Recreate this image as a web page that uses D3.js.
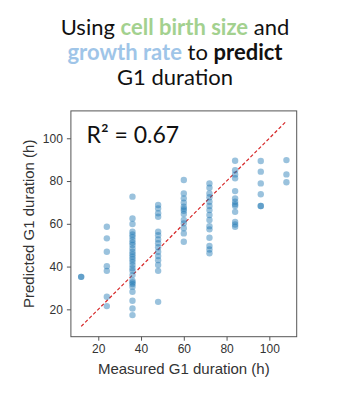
<!DOCTYPE html>
<html>
<head>
<meta charset="utf-8">
<script src="https://cdn.jsdelivr.net/npm/d3@7"></script>
<style>
  body { margin: 0; background: #fff; }
  svg { display: block; }
  .tick text { font-family: "Liberation Sans", Arial, sans-serif; font-size: 12px; fill: #333; }
  .tick line { stroke: #555; }
  .axis-label { font-family: "Liberation Sans", Arial, sans-serif; font-size: 15px; fill: #333; }
  .title { font-family: Lato, "Open Sans", sans-serif; font-size: 22px; fill: #111; }
</style>
</head>
<body>
<svg id="chart" width="346" height="398"></svg>
<script>
// measured G1 duration levels (h) and predicted values at each level
const measured = [12, 24, 36, 48, 60, 72, 84, 96, 108];
const pred12 = [35.2, 35.2];
const pred24 = [58.6, 53.2, 46.9, 40.2, 38.0, 25.9, 21.5];
const pred36 = [72.7, 62.5, 59.9, 56.3, 55.0, 53.9, 52.4, 51.2, 50.1, 48.5, 46.9, 45.8, 44.6, 43.4, 42.2,
                40.7, 39.2, 38.0, 36.0, 33.4, 32.6, 31.8, 30.6, 28.2, 24.0, 20.4, 17.3];
const pred48 = [68.8, 67.2, 64.9, 63.3, 56.3, 54.7, 52.7, 50.9, 49.0, 46.9, 44.9, 43.0, 40.7, 38.0, 23.5];
const pred60 = [80.5, 74.2, 71.9, 69.9, 68.0, 67.0, 66.1, 64.6, 61.8, 60.2, 57.9, 55.5, 51.6];
const pred72 = [78.9, 76.9, 74.2, 72.4, 70.3, 68.3, 66.4, 64.1, 61.8, 58.9, 57.4, 53.5, 49.6, 48.0, 46.2];
const pred84 = [89.5, 85.1, 83.1, 81.3, 75.3, 71.9, 70.3, 69.2, 68.3, 65.6, 60.9, 59.7, 58.6];
const pred96 = [89.4, 84.4, 78.9, 73.8, 68.3, 68.3];
const pred108 = [89.8, 83.1, 79.4];
const predicted = [pred12, pred24, pred36, pred48, pred60, pred72, pred84, pred96, pred108];
const xTicks = [20, 40, 60, 80, 100];
const yTicks = [20, 40, 60, 80, 100];
const rSquared = "0.67";

const points = [];
measured.forEach((m, i) => predicted[i].forEach(p => points.push({ m, p })));

const svg = d3.select("#chart");
const box = { left: 70.9, right: 296.7, top: 110.9, bottom: 336.7 };

const lo = d3.min(measured), hi = d3.max(measured);
const pad = (hi - lo) * 0.05;
const x = d3.scaleLinear().domain([lo - pad, hi + pad]).range([box.left, box.right]);
const y = d3.scaleLinear().domain([lo - pad, hi + pad]).range([box.bottom, box.top]);

// title
const title = svg.append("text").attr("class", "title").attr("text-anchor", "middle");
const lines = [
  [["Using ", "#111", 400], ["cell birth size", "#a3d18f", 700], [" and", "#111", 400]],
  [["growth rate", "#9fc5e8", 700], [" to ", "#111", 400], ["predict", "#111", 700]],
  [["G1 duration", "#111", 400]]
];
lines.forEach((line, i) => {
  line.forEach(([t, c, w], j) => {
    const ts = title.append("tspan").text(t).attr("fill", c).attr("font-weight", w);
    if (j === 0) ts.attr("x", 175).attr("y", 34.5 + i * 25.3);
  });
});

// axes
svg.append("g")
  .attr("transform", `translate(0,${box.bottom})`)
  .call(d3.axisBottom(x).tickValues(xTicks).tickSize(4).tickPadding(4))
  .call(g => g.select(".domain").remove());

svg.append("g")
  .attr("transform", `translate(${box.left},0)`)
  .call(d3.axisLeft(y).tickValues(yTicks).tickSize(4).tickPadding(4))
  .call(g => g.select(".domain").remove());

// spines
svg.append("rect")
  .attr("x", box.left).attr("y", box.top)
  .attr("width", box.right - box.left).attr("height", box.bottom - box.top)
  .attr("fill", "none").attr("stroke", "#555").attr("stroke-width", 1);

// identity line
svg.append("line")
  .attr("x1", x(lo)).attr("y1", y(lo))
  .attr("x2", x(hi)).attr("y2", y(hi))
  .attr("stroke", "#d62728").attr("stroke-width", 1.2)
  .attr("stroke-dasharray", "3.5,2.2");

// points
svg.append("g").selectAll("circle")
  .data(points)
  .join("circle")
  .attr("cx", d => x(d.m))
  .attr("cy", d => y(d.p))
  .attr("r", 3.2)
  .attr("fill", "#1f77b4")
  .attr("fill-opacity", 0.45);

// R2 annotation
svg.append("text")
  .attr("x", 86.5).attr("y", 143.3)
  .attr("font-family", "Lato, 'Open Sans', sans-serif")
  .attr("font-size", 23).attr("fill", "#111")
  .text("R\u00b2 = " + rSquared);

// axis labels
svg.append("text").attr("class", "axis-label")
  .attr("text-anchor", "middle")
  .attr("x", (box.left + box.right) / 2).attr("y", 374)
  .text("Measured G1 duration (h)");

svg.append("text").attr("class", "axis-label")
  .attr("text-anchor", "middle")
  .attr("transform", `translate(33.5,${(box.top + box.bottom) / 2}) rotate(-90)`)
  .text("Predicted G1 duration (h)");
</script>
</body>
</html>
